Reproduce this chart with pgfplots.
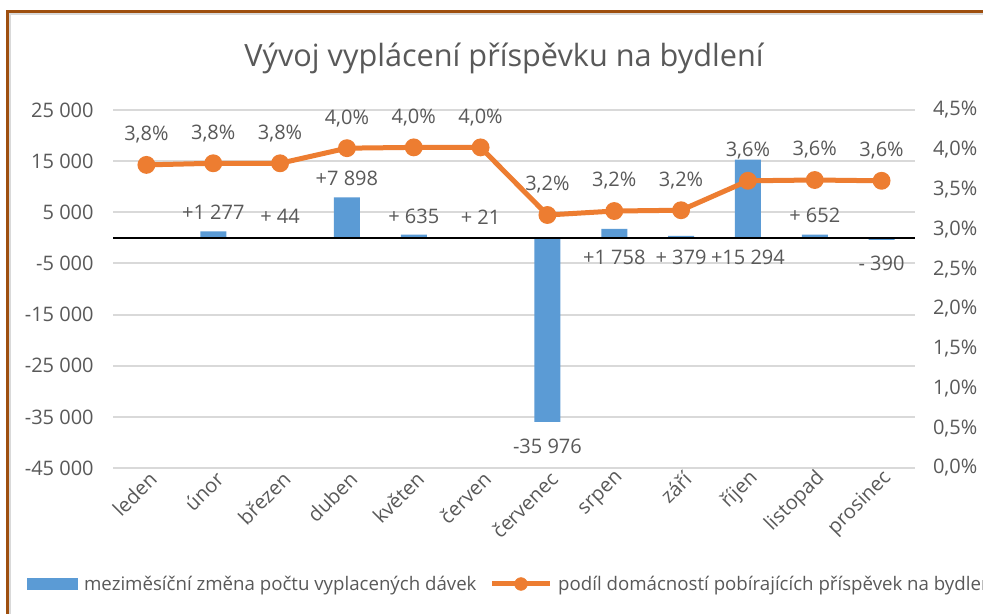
\documentclass[border=0pt]{standalone}
\usepackage{fontspec}
\setmainfont{Open Sans}
\usepackage{pgfplots}
\pgfplotsset{compat=1.18}
\definecolor{barblue}{HTML}{5B9BD5}
\definecolor{lineor}{HTML}{ED7D31}
\definecolor{txt}{HTML}{595959}
\definecolor{grd}{HTML}{D9D9D9}
\definecolor{frame}{HTML}{9E4F0F}
\newcommand{\lblfont}{\fontsize{15}{18}\selectfont}

\begin{document}
\begin{tikzpicture}[x=0.75pt,y=0.75pt]
\useasboundingbox (0,0) rectangle (983,614);
\fill[white] (0,0) rectangle (983,614);
\draw[grd, line width=1.5pt] (9.8,0) -- (9.8,599.5) -- (983,599.5);
\draw[frame, line width=2.25pt] (7,0) -- (7,602) -- (983,602);
\node[txt, font=\fontsize{23}{28}\selectfont] at (504,556) {Vývoj vyplácení příspěvku na bydlení};

% bars: month-to-month change
\begin{axis}[
  at={(84.75pt,109.5pt)}, anchor=south west, scale only axis,
  width=601.5pt, height=268.5pt,
  xmin=0.5, xmax=12.5, ymin=-45000, ymax=25000,
  ytick={-45000,-35000,...,25000},
  xtick={1,...,12},
  xticklabels={leden,únor,březen,duben,květen,červen,červenec,srpen,září,říjen,listopad,prosinec},
  axis line style={draw=none}, major tick length=0pt,
  ymajorgrids, grid style={grd, line width=1.5pt},
  ticklabel style={text=txt, font=\lblfont},
  scaled y ticks=false,
  yticklabel style={xshift=-11pt, /pgf/number format/.cd, 1000 sep={\ }, assume math mode=true},
  xticklabel style={rotate=45, anchor=east, xshift=3pt, yshift=-7.5pt},
  ybar, bar width=19.5pt,
  legend style={at={(-0.107,-0.324)}, anchor=west, draw=none, fill=none,
    font=\fontsize{14}{17}\selectfont, text=txt, inner sep=0pt,
    /tikz/every odd column/.append style={column sep=2.5pt},
    /tikz/every even column/.append style={column sep=8pt}},
  legend columns=2, legend cell align=left,
]
\addplot[fill=barblue, draw=none,
  legend image code/.code={\fill[barblue] (0pt,-4.5pt) rectangle (38pt,4.5pt);}]
  coordinates {(2,1277)(3,44)(4,7898)(5,635)(6,21)(7,-35976)(8,1758)(9,379)(10,15294)(11,652)(12,-390)};
\addlegendentry{meziměsíční změna počtu vyplacených dávek}
\addlegendimage{legend image code/.code={
  \draw[lineor, line width=3.75pt] (0pt,0pt) -- (43pt,0pt);
  \fill[lineor] (21.5pt,0pt) circle (4.8pt);}}
\addlegendentry{podíl domácností pobírajících příspěvek na bydlení}
\draw[black, line width=1.5pt] (axis cs:0.5,0) -- (axis cs:12.5,0);
\begin{scope}[every node/.style={text=txt, font=\lblfont}]
\node at (axis cs:2,5050) {+1 277};
\node at (axis cs:3,4300) {+ 44};
\node at (axis cs:4,11700) {+7 898};
\node at (axis cs:5,4300) {+ 635};
\node at (axis cs:6,4100) {+ 21};
\node at (axis cs:7,-40700) {-35 976};
\node at (axis cs:8,-3750) {+1 758};
\node at (axis cs:9,-3750) {+ 379};
\node at (axis cs:10,-3750) {+15 294};
\node at (axis cs:11,4400) {+ 652};
\node at (axis cs:12,-4900) {- 390};
\end{scope}
\end{axis}

% line: share of households
\begin{axis}[
  at={(84.75pt,109.5pt)}, anchor=south west, scale only axis,
  width=601.5pt, height=268.5pt,
  xmin=0.5, xmax=12.5, ymin=0, ymax=4.5,
  ytick={0,0.5,...,4.5},
  axis y line*=right, axis x line=none,
  axis line style={draw=none}, major tick length=0pt,
  ticklabel style={text=txt, font=\lblfont},
  yticklabel style={xshift=10pt},
  yticklabel={\pgfmathprintnumber[fixed,fixed zerofill,precision=1,use comma,assume math mode=true]{\tick}\%},
]
\addplot[lineor, line width=3.75pt, mark=*, mark size=4.8pt,
  point meta=y,
  nodes near coords={\pgfmathprintnumber[fixed,fixed zerofill,precision=1,use comma,assume math mode=true]{\pgfplotspointmeta}\%},
  every node near coord/.style={text=txt, font=\lblfont, anchor=center, yshift=22.5pt}]
  coordinates {(1,3.81)(2,3.83)(3,3.83)(4,4.02)(5,4.03)(6,4.03)(7,3.18)(8,3.23)(9,3.24)(10,3.61)(11,3.62)(12,3.61)};
\end{axis}
\end{tikzpicture}
\end{document}
